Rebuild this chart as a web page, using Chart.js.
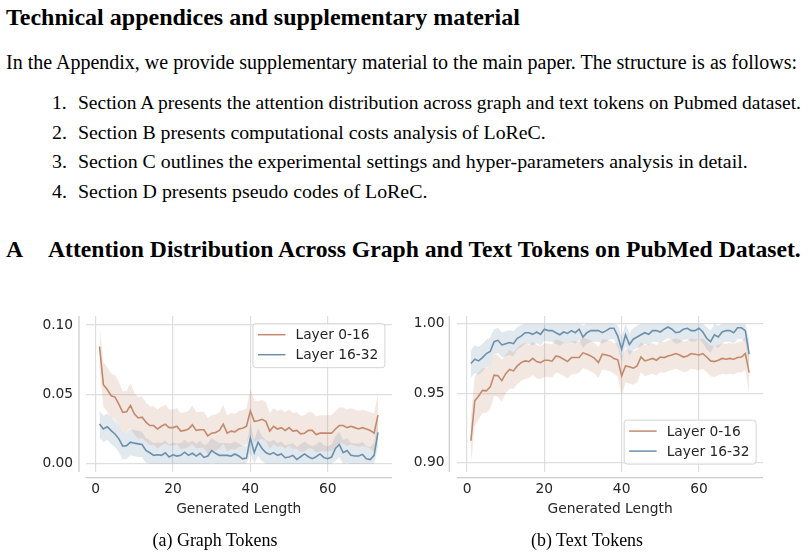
<!DOCTYPE html>
<html>
<head>
<meta charset="utf-8">
<script src="https://cdn.jsdelivr.net/npm/chart.js@4.4.1/dist/chart.umd.min.js"></script>
<style>
body { margin:0; background:#fff; width:808px; height:556px; overflow:hidden; position:relative;
       font-family:"Liberation Serif","Times New Roman",serif; color:#000; }
.t { position:absolute; white-space:nowrap; line-height:1; transform:translateY(-50%); }
.b { font-weight:bold; }
.c { transform:translate(-50%,-50%); }
.n { display:inline-block; width:26px; }
canvas { position:absolute; }
</style>
</head>
<body>
<div class="t b" style="left:6px;top:17px" data-w="514">Technical appendices and supplementary material</div>
<div class="t" style="left:6px;top:62px" data-w="791">In the Appendix, we provide supplementary material to the main paper. The structure is as follows:</div>
<div class="t" style="left:52px;top:103px" data-w="749"><span class="n">1.</span>Section A presents the attention distribution across graph and text tokens on Pubmed dataset.</div>
<div class="t" style="left:52px;top:133px" data-w="494"><span class="n">2.</span>Section B presents computational costs analysis of LoReC.</div>
<div class="t" style="left:52px;top:162px" data-w="696"><span class="n">3.</span>Section C outlines the experimental settings and hyper-parameters analysis in detail.</div>
<div class="t" style="left:52px;top:192px" data-w="376"><span class="n">4.</span>Section D presents pseudo codes of LoReC.</div>
<div class="t b" style="left:6px;top:250px" data-w="796"><span style="display:inline-block;width:42px">A</span>Attention Distribution Across Graph and Text Tokens on PubMed Dataset.</div>

<canvas id="graphChart" width="400" height="232" style="left:0;top:300px"></canvas>
<canvas id="textChart" width="400" height="232" style="left:400px;top:300px"></canvas>

<div class="t c" style="left:215px;top:541px" data-w="125">(a) Graph Tokens</div>
<div class="t c" style="left:587px;top:541px" data-w="112">(b) Text Tokens</div>

<script>
// generated length (x)
var steps = [1,2,3,4,5,6,7,8,9,10,11,12,13,14,15,16,17,18,19,20,21,22,23,24,25,26,27,28,29,30,
  31,32,33,34,35,36,37,38,39,40,41,42,43,44,45,46,47,48,49,50,51,52,53,54,55,56,57,58,59,60,
  61,62,63,64,65,66,67,68,69,70,71,72,73];
var seriesNames = ["Layer 0-16", "Layer 16-32"];
var xTicks = [0, 20, 40, 60];
var graphYTicks = [0, 0.05, 0.10];
var textYTicks = [0.90, 0.95, 1.00];

// (a) attention on graph tokens
var graphShallow = [0.0845,0.057,0.0535,0.049,0.048,0.043,0.037,0.0375,0.042,0.036,
  0.033,0.0335,0.030,0.0275,0.0275,0.025,0.027,0.0285,0.026,0.026,
  0.027,0.0235,0.024,0.025,0.028,0.024,0.0245,0.0245,0.020,0.022,
  0.0225,0.024,0.0285,0.022,0.0235,0.023,0.025,0.0255,0.027,0.038,
  0.0305,0.031,0.032,0.0305,0.0235,0.027,0.025,0.026,0.024,0.026,
  0.0235,0.024,0.0215,0.022,0.024,0.024,0.021,0.022,0.022,0.022,
  0.022,0.025,0.0275,0.0275,0.026,0.027,0.026,0.025,0.026,0.025,
  0.024,0.022,0.035];
var graphDeep = [0.0286,0.025,0.0267,0.0238,0.0214,0.0179,0.0126,0.013,0.0155,0.0148,
  0.0143,0.0138,0.0095,0.0079,0.006,0.0064,0.006,0.0079,0.0048,0.0064,
  0.0055,0.006,0.0083,0.006,0.0075,0.0055,0.0075,0.0045,0.0055,0.0095,
  0.0075,0.006,0.006,0.006,0.0055,0.007,0.0055,0.0035,0.004,0.0186,
  0.008,0.0155,0.011,0.008,0.0067,0.008,0.006,0.007,0.0043,0.0048,
  0.006,0.003,0.005,0.007,0.005,0.0036,0.005,0.007,0.0045,0.0036,
  0.0048,0.011,0.0138,0.008,0.0095,0.006,0.0055,0.0055,0.0067,0.0036,
  0.003,0.006,0.0226];
var graphShallowSpread = [0.015,0.016,0.016,0.016,0.016,0.016,0.015,0.015,0.016,0.015,
  0.015,0.015,0.014,0.014,0.014,0.014,0.014,0.014,0.013,0.013,
  0.013,0.013,0.013,0.013,0.014,0.013,0.013,0.013,0.013,0.013,
  0.013,0.013,0.014,0.013,0.013,0.013,0.013,0.013,0.013,0.016,
  0.015,0.014,0.014,0.014,0.013,0.013,0.013,0.013,0.013,0.013,
  0.013,0.013,0.013,0.013,0.013,0.013,0.013,0.013,0.013,0.013,
  0.013,0.013,0.013,0.013,0.013,0.013,0.013,0.013,0.013,0.013,
  0.013,0.014,0.016];
var graphDeepSpread = [0.0095,0.0095,0.0095,0.0095,0.0095,0.0095,0.0095,0.0095,0.0095,0.0095,
  0.0095,0.009,0.009,0.009,0.009,0.009,0.009,0.009,0.009,0.009,
  0.009,0.009,0.009,0.009,0.009,0.009,0.009,0.009,0.009,0.009,
  0.009,0.009,0.009,0.009,0.009,0.009,0.009,0.009,0.009,0.011,
  0.009,0.01,0.009,0.009,0.009,0.009,0.009,0.009,0.009,0.009,
  0.009,0.009,0.009,0.009,0.009,0.009,0.009,0.009,0.009,0.009,
  0.009,0.009,0.009,0.009,0.009,0.009,0.009,0.009,0.009,0.009,
  0.009,0.009,0.011];

// (b) attention on text tokens
var textShallow = [0.9158,0.9445,0.948,0.952,0.9517,0.9545,0.963,0.9625,0.959,0.964,
  0.967,0.966,0.9696,0.972,0.9732,0.9727,0.975,0.9727,0.972,0.9737,
  0.9737,0.973,0.9768,0.976,0.9744,0.9727,0.9756,0.9756,0.9756,0.979,
  0.978,0.9768,0.975,0.972,0.978,0.9775,0.9768,0.975,0.974,0.9624,
  0.9696,0.969,0.968,0.9696,0.976,0.9732,0.974,0.975,0.9737,0.976,
  0.9756,0.9768,0.9775,0.9785,0.9775,0.976,0.9768,0.9785,0.978,0.9775,
  0.9785,0.976,0.9732,0.9727,0.9737,0.975,0.9744,0.975,0.9744,0.9756,
  0.976,0.9785,0.9648];
var textDeep = [0.9713,0.9744,0.9732,0.9756,0.9785,0.98,0.987,0.988,0.9847,0.9856,
  0.9864,0.9856,0.9895,0.991,0.9935,0.9935,0.9923,0.994,0.9923,0.996,
  0.995,0.995,0.9935,0.992,0.994,0.993,0.995,0.9935,0.996,0.9904,
  0.9935,0.995,0.995,0.995,0.9935,0.995,0.9967,0.9967,0.991,0.9816,
  0.992,0.985,0.9888,0.9904,0.992,0.9935,0.9923,0.995,0.995,0.994,
  0.996,0.9976,0.996,0.9935,0.994,0.996,0.9967,0.995,0.995,0.9967,
  0.994,0.9895,0.987,0.992,0.9904,0.994,0.995,0.995,0.9935,0.997,
  0.997,0.995,0.978];
var textShallowSpread = [0.017,0.018,0.017,0.016,0.016,0.016,0.015,0.015,0.015,0.014,
  0.014,0.013,0.013,0.013,0.013,0.012,0.012,0.012,0.012,0.012,
  0.012,0.012,0.012,0.012,0.012,0.012,0.012,0.012,0.011,0.011,
  0.011,0.011,0.011,0.011,0.011,0.011,0.011,0.011,0.012,0.014,
  0.012,0.012,0.012,0.012,0.011,0.011,0.011,0.011,0.011,0.011,
  0.011,0.011,0.011,0.011,0.011,0.011,0.011,0.011,0.011,0.011,
  0.011,0.011,0.011,0.011,0.011,0.011,0.011,0.011,0.011,0.011,
  0.011,0.012,0.015];
var textDeepSpread = [0.01,0.01,0.01,0.01,0.01,0.01,0.009,0.009,0.009,0.009,
  0.009,0.009,0.008,0.008,0.008,0.008,0.008,0.008,0.008,0.008,
  0.008,0.008,0.008,0.008,0.008,0.008,0.008,0.008,0.008,0.008,
  0.008,0.008,0.008,0.008,0.008,0.008,0.008,0.008,0.008,0.009,
  0.008,0.008,0.008,0.008,0.008,0.008,0.008,0.008,0.008,0.008,
  0.008,0.008,0.008,0.008,0.008,0.008,0.008,0.008,0.008,0.008,
  0.008,0.008,0.008,0.008,0.008,0.008,0.008,0.008,0.008,0.008,
  0.008,0.008,0.01];

var orange = "#c4896c", blue = "#6b8fac";
var tickFont = { family: "'DejaVu Sans'", size: 13.8 };

// fit serif text lines to their widths in the page
document.querySelectorAll("[data-w]").forEach(function (el) {
  for (var k = 0; k < 2; k++) {
    var fs = parseFloat(getComputedStyle(el).fontSize);
    el.style.fontSize = (fs * el.dataset.w / el.getBoundingClientRect().width) + "px";
  }
});

function pts(ys) {
  return steps.map(function (x, i) { return { x: x, y: ys[i] }; });
}
function band(mean, spread, sign) {
  return mean.map(function (v, i) {
    return Math.min(1, Math.max(0, v + sign * spread[i]));
  });
}

var spines = {
  id: "spines",
  beforeDatasetsDraw: function (chart, args, o) {
    var a = chart.chartArea, c = chart.ctx;
    c.save();
    c.strokeStyle = "#cccccc";
    c.lineWidth = 1.25;
    c.beginPath();
    c.moveTo(a.left - o.gap, a.top); c.lineTo(a.left - o.gap, a.bottom);
    c.moveTo(a.left, a.bottom + 5.5); c.lineTo(a.right, a.bottom + 5.5);
    c.stroke();
    c.restore();
  }
};

var boxLegend = {
  id: "boxLegend",
  afterDatasetsDraw: function (chart, args, o) {
    var a = chart.chartArea, c = chart.ctx;
    var items = chart.data.datasets.filter(function (d) { return d.label; });
    c.save();
    c.font = "13.8px 'DejaVu Sans'";
    var tw = 0;
    items.forEach(function (d) { tw = Math.max(tw, c.measureText(d.label).width); });
    var w = 43 + tw + 6, h = 44;
    var x = a.right - 7.5 - w;
    var y = o.bottom ? a.bottom - 8.4 - h : a.top + 7.2;
    c.beginPath();
    c.roundRect(x + 0.5, y + 0.5, w, h, 3);
    c.fillStyle = "rgba(255,255,255,0.8)";
    c.fill();
    c.strokeStyle = "#d4d4d4";
    c.lineWidth = 1;
    c.stroke();
    c.textBaseline = "middle";
    items.forEach(function (d, i) {
      var yy = y + 11.5 + i * 20;
      c.strokeStyle = d.borderColor;
      c.lineWidth = 1.5;
      c.beginPath(); c.moveTo(x + 5.5, yy); c.lineTo(x + 33, yy); c.stroke();
      c.fillStyle = "#262626";
      c.fillText(d.label, x + 43, yy + 1);
    });
    c.restore();
  }
};

function makeChart(id, shallow, deep, shallowSpread, deepSpread, yTicks, yMin, yMax, yWidth, padRight, spineGap, legendBottom) {
  var bandStyle = { fill: false, borderWidth: 0, pointRadius: 0, order: 2 };
  new Chart(id, {
    type: "line",
    data: {
      datasets: [
        Object.assign({}, bandStyle, { data: pts(band(shallow, shallowSpread, 1)), fill: "+1", backgroundColor: "rgba(196,137,108,0.2)" }),
        Object.assign({}, bandStyle, { data: pts(band(shallow, shallowSpread, -1)) }),
        Object.assign({}, bandStyle, { data: pts(band(deep, deepSpread, 1)), fill: "+1", backgroundColor: "rgba(107,143,172,0.2)" }),
        Object.assign({}, bandStyle, { data: pts(band(deep, deepSpread, -1)) }),
        { label: seriesNames[0], data: pts(shallow), borderColor: orange, borderWidth: 1.6, pointRadius: 0, fill: false, order: 0 },
        { label: seriesNames[1], data: pts(deep), borderColor: blue, borderWidth: 1.6, pointRadius: 0, fill: false, order: 0 }
      ]
    },
    options: {
      responsive: false,
      animation: false,
      devicePixelRatio: 1,
      layout: { padding: { left: 0, right: padRight, top: 16, bottom: 0 } },
      elements: { line: { tension: 0 } },
      scales: {
        x: {
          type: "linear", min: -2.6, max: 76.6,
          afterBuildTicks: function (s) { s.ticks = xTicks.map(function (v) { return { value: v }; }); },
          afterFit: function (s) { s.height = 60; s.paddingLeft = 0; s.paddingRight = 0; },
          grid: { color: "#dedede", lineWidth: 1.2, drawTicks: false },
          border: { display: false },
          ticks: { color: "#262626", font: tickFont, padding: 9.5, maxRotation: 0 },
          title: { display: true, text: "Generated Length", color: "#262626", font: tickFont, padding: { top: 0, bottom: 14.5 } }
        },
        y: {
          min: yMin, max: yMax,
          afterBuildTicks: function (s) { s.ticks = yTicks.map(function (v) { return { value: v }; }); },
          afterFit: function (s) { s.width = yWidth; s.paddingTop = 0; s.paddingBottom = 0; },
          grid: { color: "#dedede", lineWidth: 1.2, drawTicks: false },
          border: { display: false },
          ticks: { color: "#262626", font: tickFont, padding: 12.5, callback: function (v) { return v.toFixed(2); } }
        }
      },
      plugins: {
        legend: { display: false },
        tooltip: { enabled: false },
        spines: { gap: spineGap },
        boxLegend: { bottom: legendBottom }
      }
    },
    plugins: [spines, boxLegend]
  });
}

makeChart("graphChart", graphShallow, graphDeep, graphShallowSpread, graphDeepSpread,
  graphYTicks, -0.006, 0.1065, 85.6, 8.1, 6.6, false);
makeChart("textChart", textShallow, textDeep, textShallowSpread, textDeepSpread,
  textYTicks, 0.8933, 1.0055, 57, 36.9, 7.7, true);
</script>
</body>
</html>
